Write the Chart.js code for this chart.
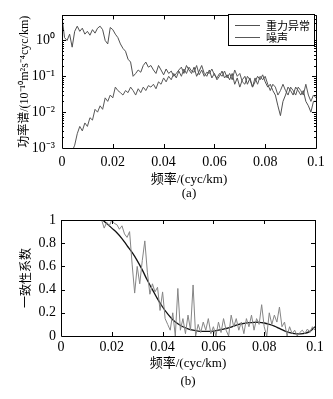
<!DOCTYPE html>
<html>
<head>
<meta charset="utf-8">
<script src="https://cdn.jsdelivr.net/npm/chart.js@4"></script>
<style>
  html, body { margin: 0; padding: 0; background: #fff; }
  #wrap { position: relative; width: 333px; height: 399px; }
  #boxA { position: absolute; left: 0; top: 0; width: 333px; height: 200px; }
  #boxB { position: absolute; left: 0; top: 200px; width: 333px; height: 199px; }
</style>
</head>
<body>
<div id="wrap">
  <div id="boxA"><canvas id="chartA"></canvas></div>
  <div id="boxB"><canvas id="chartB"></canvas></div>
</div>
<script>
/*----------------------------data------------------------------------*/

// power spectrum, sampled every 0.001 cyc/km from 0 to 0.1
var gravity = [4.5,1.2,1.0,1.5,0.65,1.8,2.5,1.8,2.2,1.5,
  1.8,1.4,2.0,1.6,2.2,2.5,2.0,1.0,0.8,2.3,
  2.0,1.5,1.2,0.8,0.6,0.5,0.3,0.25,0.1,0.12,
  0.15,0.13,0.2,0.25,0.18,0.2,0.15,0.12,0.2,0.15,
  0.11,0.16,0.12,0.14,0.10,0.12,0.15,0.18,0.12,0.2,
  0.15,0.12,0.18,0.1,0.14,0.2,0.12,0.1,0.15,0.09,
  0.12,0.08,0.1,0.14,0.09,0.11,0.08,0.12,0.06,0.09,
  0.05,0.08,0.1,0.06,0.09,0.05,0.07,0.1,0.08,0.11,
  0.07,0.05,0.06,0.04,0.03,0.015,0.008,0.02,0.03,0.05,
  0.04,0.03,0.05,0.04,0.03,0.04,0.02,0.015,0.01,0.02,0.02];

var noise = [null,null,null,null,0.0008,0.0012,0.0025,0.004,0.003,0.005,
  0.004,0.007,0.006,0.012,0.010,0.015,0.012,0.025,0.02,0.03,
  0.025,0.05,0.04,0.035,0.03,0.04,0.035,0.05,0.04,0.03,
  0.045,0.035,0.05,0.04,0.055,0.05,0.06,0.045,0.07,0.06,
  0.09,0.07,0.1,0.08,0.12,0.09,0.14,0.1,0.16,0.12,
  0.18,0.14,0.13,0.2,0.11,0.15,0.1,0.13,0.12,0.16,
  0.11,0.09,0.12,0.1,0.14,0.09,0.12,0.08,0.15,0.1,
  0.12,0.07,0.06,0.1,0.08,0.05,0.09,0.06,0.1,0.08,
  0.1,0.06,0.04,0.06,0.05,0.03,0.04,0.06,0.04,0.03,
  0.05,0.04,0.03,0.05,0.04,0.03,0.06,0.03,0.02,0.03,0.025];

// coherence, every 0.001 cyc/km
var coherence = [1,1,1,1,1,1,1,1,1,1,
  1,1,1,1,1,1,1,0.93,0.98,0.95,
  1.0,0.97,0.96,0.92,0.95,0.88,0.85,0.9,0.62,0.37,
  0.6,0.45,0.65,0.82,0.55,0.36,0.45,0.38,0.42,0.22,
  0.38,0.15,0.1,0.05,0.2,0.0,0.41,0.05,0.15,0.02,
  0.18,0.05,0.44,0.0,0.1,0.03,0.12,0.05,0.15,0.02,
  0.08,0.0,0.12,0.03,0.15,0.05,0.0,0.18,0.08,0.15,
  0.05,0.12,0.02,0.15,0.08,0.18,0.05,0.15,0.1,0.27,
  0.08,0.0,0.2,0.1,0.18,0.12,0.25,0.08,0.12,0.0,
  0.08,0.02,0.05,0.0,0.03,0.05,0.02,0.06,0.03,0.08,0.05];

// fitted coherence curve, every 0.002 cyc/km
var fitted = [1,1,1,1,1,1,1,1,1,0.97,
  0.93,0.89,0.84,0.78,0.72,0.65,0.57,0.48,0.40,0.32,
  0.25,0.19,0.14,0.105,0.08,0.062,0.05,0.042,0.04,0.04,
  0.042,0.05,0.06,0.07,0.085,0.1,0.108,0.115,0.118,0.118,
  0.112,0.1,0.085,0.065,0.045,0.03,0.02,0.018,0.022,0.04,0.08];

var xTicks = [0, 0.02, 0.04, 0.06, 0.08, 0.1];
var logTicks = [0.001, 0.01, 0.1, 1];
var logLabels = ['10\u207B\u00B3', '10\u207B\u00B2', '10\u207B\u00B9', '10\u2070'];
var cohTicks = [0, 0.2, 0.4, 0.6, 0.8, 1];

function toPoints(values, step) {
  var pts = [];
  for (var i = 0; i < values.length; i++) {
    pts.push({x: +(i * step).toFixed(4), y: values[i]});
  }
  return pts;
}

/*----------------------------helpers------------------------------------*/

var serif = "'Liberation Serif', 'Noto Sans CJK SC', serif";
var cjk = "'Noto Sans CJK SC', 'Liberation Serif', sans-serif";

// matlab style box with inward ticks
var framePlugin = {
  id: 'frame',
  afterDatasetsDraw: function (chart, args, opts) {
    var ctx = chart.ctx, a = chart.chartArea;
    var xs = chart.scales.x, ys = chart.scales.y;
    ctx.save();
    ctx.strokeStyle = '#000';
    ctx.lineWidth = 1;
    ctx.beginPath();
    ctx.rect(Math.round(a.left) + 0.5, Math.round(a.top) + 0.5,
      Math.round(a.right - a.left), Math.round(a.bottom - a.top));
    ctx.stroke();
    ctx.beginPath();
    xs.ticks.forEach(function (t) {
      var px = Math.round(xs.getPixelForValue(t.value)) + 0.5;
      ctx.moveTo(px, a.bottom); ctx.lineTo(px, a.bottom - 4);
      ctx.moveTo(px, a.top); ctx.lineTo(px, a.top + 4);
    });
    var yt = opts.minor ? opts.minor : ys.ticks.map(function (t) { return t.value; });
    yt.forEach(function (v) {
      var py = Math.round(ys.getPixelForValue(v)) + 0.5;
      if (py < a.top || py > a.bottom) return;
      var len = opts.minor && logTicks.indexOf(v) < 0 ? 2 : 4;
      ctx.moveTo(a.left, py); ctx.lineTo(a.left + len, py);
      ctx.moveTo(a.right, py); ctx.lineTo(a.right - len, py);
    });
    ctx.stroke();
    ctx.restore();
  },
  afterDraw: function (chart, args, opts) {
    var ctx = chart.ctx;
    ctx.save();
    ctx.fillStyle = '#000';
    ctx.font = '13px ' + serif;
    ctx.textAlign = 'center';
    ctx.textBaseline = 'middle';
    ctx.fillText(opts.caption, opts.captionX, opts.captionY);
    if (opts.legend) {
      var L = opts.legend;
      ctx.fillStyle = '#fff';
      ctx.fillRect(L.x, L.y, L.w, L.h);
      ctx.strokeStyle = '#000';
      ctx.lineWidth = 1;
      ctx.strokeRect(L.x + 0.5, L.y + 0.5, L.w, L.h);
      ctx.font = '11px ' + cjk;
      ctx.textAlign = 'left';
      chart.data.datasets.forEach(function (ds, i) {
        var ry = L.y + 11 + i * 12 + 0.5;
        ctx.strokeStyle = ds.borderColor;
        ctx.beginPath();
        ctx.moveTo(L.x + 7, ry); ctx.lineTo(L.x + 32, ry);
        ctx.stroke();
        ctx.fillStyle = '#000';
        ctx.fillText(ds.label, L.x + 38, ry);
      });
    }
    ctx.restore();
  }
};

var minorLog = [];
[0.001, 0.01, 0.1, 1].forEach(function (d) {
  for (var k = 1; k <= 9; k++) minorLog.push(+(d * k).toPrecision(2));
});

function plainFormat(v) { return String(Number(v.toFixed(2))); }

/*----------------------------Power spectrum------------------------------------*/

new Chart("chartA", {
  type: "line",
  data: {
    datasets: [{
      label: '重力异常',
      data: toPoints(gravity, 0.001),
      borderColor: '#505050',
      borderWidth: 1,
      pointRadius: 0,
      tension: 0
    }, {
      label: '噪声',
      data: toPoints(noise, 0.001),
      borderColor: '#585858',
      borderWidth: 1,
      pointRadius: 0,
      tension: 0
    }]
  },
  options: {
    responsive: true,
    maintainAspectRatio: false,
    animation: false,
    layout: {padding: {left: 0, right: 17, top: 10, bottom: 0}},
    plugins: {
      legend: {display: false},
      tooltip: {enabled: false},
      frame: {
        minor: minorLog,
        caption: '(a)', captionX: 189, captionY: 194,
        legend: {x: 228, y: 14, w: 86, h: 31}
      }
    },
    scales: {
      x: {
        type: 'linear', min: 0, max: 0.1,
        grid: {display: false, drawTicks: false},
        border: {display: false},
        afterBuildTicks: function (s) { s.ticks = xTicks.map(function (v) { return {value: v}; }); },
        afterFit: function (s) { s.height = 52; },
        ticks: {color: '#000', padding: 6, font: {family: serif, size: 14}, callback: plainFormat, maxRotation: 0},
        title: {display: true, text: '频率/(cyc/km)', color: '#000', font: {family: serif, size: 13}, padding: {top: 0, bottom: 13}}
      },
      y: {
        type: 'logarithmic', min: 0.001, max: 5,
        grid: {display: false, drawTicks: false},
        border: {display: false},
        afterBuildTicks: function (s) { s.ticks = logTicks.map(function (v) { return {value: v}; }); },
        afterFit: function (s) { s.width = 62; },
        ticks: {
          color: '#000', padding: 7, font: {family: serif, size: 14},
          callback: function (v) { return logLabels[logTicks.indexOf(v)]; }
        },
        title: {display: true, text: '功率谱/(10\u207B\u00B9\u2070m\u00B2s\u207B\u2074cyc/km)', color: '#000', font: {family: serif, size: 12}, padding: {top: 18, bottom: 0}}
      }
    }
  },
  plugins: [framePlugin]
});

/*----------------------------Coherence------------------------------------*/

new Chart("chartB", {
  type: "line",
  data: {
    datasets: [{
      label: '一致性系数',
      data: toPoints(coherence, 0.001),
      borderColor: '#858585',
      borderWidth: 1,
      pointRadius: 0,
      tension: 0
    }, {
      label: '拟合',
      data: toPoints(fitted, 0.002),
      borderColor: '#111',
      borderWidth: 1.3,
      pointRadius: 0,
      tension: 0.4
    }]
  },
  options: {
    responsive: true,
    maintainAspectRatio: false,
    animation: false,
    layout: {padding: {left: 0, right: 18, top: 20, bottom: 0}},
    plugins: {
      legend: {display: false},
      tooltip: {enabled: false},
      frame: {caption: '(b)', captionX: 188, captionY: 182}
    },
    scales: {
      x: {
        type: 'linear', min: 0, max: 0.1,
        grid: {display: false, drawTicks: false},
        border: {display: false},
        afterBuildTicks: function (s) { s.ticks = xTicks.map(function (v) { return {value: v}; }); },
        afterFit: function (s) { s.height = 63; },
        ticks: {color: '#000', padding: 3, font: {family: serif, size: 14}, callback: plainFormat, maxRotation: 0},
        title: {display: true, text: '频率/(cyc/km)', color: '#000', font: {family: serif, size: 13}, padding: {top: 0, bottom: 28}}
      },
      y: {
        min: 0, max: 1,
        grid: {display: false, drawTicks: false},
        border: {display: false},
        afterBuildTicks: function (s) { s.ticks = cohTicks.map(function (v) { return {value: v}; }); },
        afterFit: function (s) { s.width = 61; },
        ticks: {color: '#000', padding: 5, font: {family: serif, size: 14}, callback: plainFormat},
        title: {display: true, text: '一致性系数', color: '#000', font: {family: cjk, size: 12}, padding: {top: 18, bottom: 0}}
      }
    }
  },
  plugins: [framePlugin]
});
</script>
</body>
</html>
